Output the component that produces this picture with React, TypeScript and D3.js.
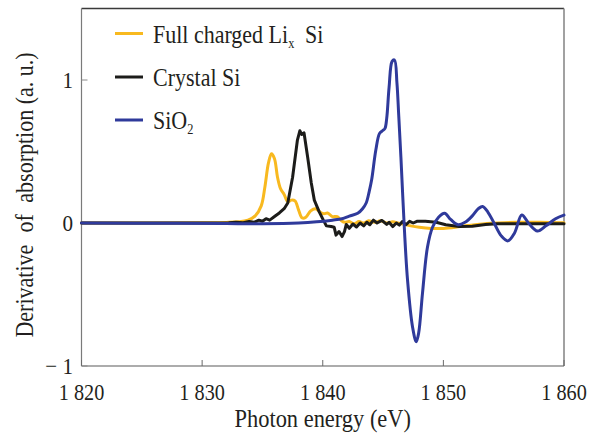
import React from 'react';
import * as d3 from 'd3';

// spectra: [photon energy eV, derivative]
const lixsi: [number, number][] = [
  [1820, 0], [1826, 0], [1830, 0.002], [1832, 0.004], [1833, 0.008], [1833.8, 0.02],
  [1834.4, 0.05], [1834.9, 0.12], [1835.2, 0.25], [1835.5, 0.42], [1835.75, 0.485],
  [1836.0, 0.45], [1836.25, 0.32], [1836.5, 0.24], [1836.8, 0.2], [1837.1, 0.15],
  [1837.4, 0.16], [1837.7, 0.155], [1838.0, 0.09], [1838.3, 0.035], [1838.6, 0.04],
  [1839.0, 0.085], [1839.4, 0.1], [1839.8, 0.075], [1840.1, 0.065], [1840.4, 0.07],
  [1840.8, 0.045], [1841.2, 0.045], [1841.5, 0.02], [1841.8, 0.005], [1842.2, 0.01],
  [1842.6, -0.005], [1843.0, 0.01], [1843.4, 0.0], [1843.8, 0.015], [1844.3, 0.005],
  [1844.8, 0.015], [1845.3, 0.0], [1845.8, 0.008], [1846.3, -0.002], [1846.8, -0.01],
  [1847.3, -0.02], [1848, -0.03], [1849, -0.038], [1850, -0.038], [1851, -0.03],
  [1852, -0.018], [1853, -0.008], [1854.5, 0.0], [1856, 0.005], [1858, 0.005], [1860, 0.002],
];

const crystal: [number, number][] = [
  [1820, 0], [1830, 0], [1832.2, 0.002], [1832.8, 0.005], [1833.4, 0.002], [1833.9, 0.01],
  [1834.3, 0.005], [1834.7, 0.02], [1835.0, 0.012], [1835.3, 0.03], [1835.6, 0.02],
  [1836.0, 0.045], [1836.4, 0.07], [1836.8, 0.1], [1837.1, 0.14], [1837.5, 0.32],
  [1837.9, 0.58], [1838.1, 0.645], [1838.25, 0.62], [1838.45, 0.63], [1838.75, 0.46],
  [1839.05, 0.28], [1839.3, 0.16], [1839.7, 0.08], [1840.05, 0.02], [1840.3, -0.02],
  [1840.7, -0.025], [1840.95, -0.03], [1841.1, -0.085], [1841.35, -0.06], [1841.6, -0.095],
  [1841.8, -0.06], [1841.95, -0.01], [1842.2, -0.037], [1842.5, -0.007], [1842.8, -0.028],
  [1843.1, 0.0], [1843.4, -0.02], [1843.65, 0.005], [1843.9, -0.012], [1844.2, 0.02],
  [1844.5, 0.0], [1844.9, 0.018], [1845.3, -0.01], [1845.5, 0.005], [1845.8, -0.025],
  [1846.1, 0.0], [1846.35, -0.015], [1846.6, 0.01], [1846.9, -0.012], [1847.2, 0.012],
  [1847.5, 0.0], [1847.8, 0.012], [1848.5, 0.012], [1849.4, 0.005], [1850.2, -0.012],
  [1851.3, -0.025], [1852.4, -0.022], [1853.5, -0.01], [1854.5, -0.005], [1856, -0.005],
  [1858, -0.005], [1860, -0.005],
];

const sio2: [number, number][] = [
  [1820, 0], [1828, -0.002], [1832, -0.004], [1835, -0.005], [1838, 0.0], [1839.5, 0.008],
  [1840.8, 0.02], [1841.6, 0.03], [1842.2, 0.048], [1842.9, 0.068], [1843.3, 0.1],
  [1843.6, 0.14], [1843.85, 0.22], [1844.05, 0.3], [1844.4, 0.51], [1844.7, 0.625],
  [1844.95, 0.645], [1845.15, 0.66], [1845.3, 0.73], [1845.5, 0.95], [1845.75, 1.13],
  [1845.95, 1.14], [1846.15, 0.98], [1846.3, 0.75], [1846.48, 0.46], [1846.76, -0.03],
  [1847.03, -0.4], [1847.44, -0.725], [1847.75, -0.83], [1847.95, -0.77], [1848.27, -0.49],
  [1848.68, -0.17], [1849.1, -0.03], [1849.6, 0.04], [1850.1, 0.068], [1850.6, 0.025],
  [1851.2, -0.012], [1851.8, 0.005], [1852.4, 0.05], [1852.9, 0.1], [1853.25, 0.116],
  [1853.7, 0.075], [1854.2, 0.0], [1854.8, -0.09], [1855.35, -0.125], [1855.9, -0.07],
  [1856.5, 0.056], [1857.1, -0.005], [1857.8, -0.056], [1858.5, -0.02], [1859.3, 0.03],
  [1860, 0.055],
];

const xTicks = [1820, 1830, 1840, 1850, 1860];
const xTickLabels = ['1 820', '1 830', '1 840', '1 850', '1 860'];
const yTicks = [-1, 0, 1];
const yTickLabels = ['\u2212 1', '0', '1'];

const colors = { lixsi: '#f8b91f', crystal: '#1c1c1a', sio2: '#2f3a9b' };

const W = 597;
const H = 439;
const SQ = 0.88; // the figure's serif type is horizontally condensed
const FONT = '"Liberation Serif", "Times New Roman", serif';
const INK = '#231f20';

const x = d3.scaleLinear().domain([1820, 1860]).range([81.5, 564]);
const y = d3.scaleLinear().domain([-1, 1.5]).range([366, 8.5]);

const smooth = d3.line<[number, number]>()
  .x(d => x(d[0]))
  .y(d => y(d[1]))
  .curve(d3.curveCatmullRom.alpha(0.5));

const jagged = d3.line<[number, number]>()
  .x(d => x(d[0]))
  .y(d => y(d[1]))
  .curve(d3.curveLinear);

const Txt = ({ tx, ty, size, anchor = 'start', rot = 0, children }: any) => (
  <text
    transform={`translate(${tx},${ty}) rotate(${rot}) scale(${SQ},1)`}
    fontSize={size}
    fontFamily={FONT}
    fill={INK}
    textAnchor={anchor}
  >
    {children}
  </text>
);

export default function App() {
  const x0 = x.range()[0];
  const x1 = x.range()[1];
  const y0 = y.range()[0];
  const y1 = y.range()[1];

  return (
    <svg width={W} height={H} style={{ position: 'absolute', left: 0, top: 0, background: '#fff' }}>
      {/* frame */}
      <line x1={x0} x2={x1} y1={y1} y2={y1} stroke="#3a3a3a" strokeWidth={1.3} />
      <line x1={x1} x2={x1} y1={y1} y2={y0} stroke="#8a8a8a" strokeWidth={1.6} />
      <line x1={x0} x2={x0} y1={y1} y2={y0} stroke="#7a7a7a" strokeWidth={1.2} />
      <line x1={x0} x2={x1} y1={y0} y2={y0} stroke="#5a5a5a" strokeWidth={1.2} />

      {/* ticks */}
      {xTicks.map(t => (
        <line key={'xt' + t} x1={x(t)} x2={x(t)} y1={y0} y2={y0 - 6} stroke="#6a6a6a" strokeWidth={1} />
      ))}
      {yTicks.map(t => (
        <line key={'yt' + t} x1={x0} x2={x0 + 6} y1={y(t)} y2={y(t)} stroke="#8a8a8a" strokeWidth={1} />
      ))}

      {/* tick labels */}
      {xTicks.map((t, i) => (
        <Txt key={'xl' + t} tx={x(t)} ty={400} size={23} anchor="middle">{xTickLabels[i]}</Txt>
      ))}
      {yTicks.map((t, i) => (
        <Txt key={'yl' + t} tx={73} ty={y(t) + 8} size={24} anchor="end">{yTickLabels[i]}</Txt>
      ))}

      {/* axis titles */}
      <Txt tx={(x0 + x1) / 2} ty={427} size={25.5} anchor="middle">Photon energy (eV)</Txt>
      <Txt tx={33} ty={195} size={25} anchor="middle" rot={-90}>
        Derivative<tspan dx={14}>of</tspan><tspan dx={13}>absorption (a. u.)</tspan>
      </Txt>

      {/* curves */}
      <g fill="none" strokeWidth={3} strokeLinejoin="round" strokeLinecap="round">
        <path d={smooth(lixsi) ?? ''} stroke={colors.lixsi} />
        <path d={jagged(crystal) ?? ''} stroke={colors.crystal} />
        <path d={smooth(sio2) ?? ''} stroke={colors.sio2} />
      </g>

      {/* legend */}
      <g strokeWidth={3}>
        <line x1={115} x2={143} y1={33.5} y2={33.5} stroke={colors.lixsi} />
        <line x1={115} x2={143} y1={77} y2={77} stroke={colors.crystal} />
        <line x1={115} x2={143} y1={120} y2={120} stroke={colors.sio2} />
      </g>
      <Txt tx={153} ty={42.5} size={25}>
        Full charged Li<tspan fontSize={14} dy={5}>x</tspan><tspan dy={-5} dx={6}>{' Si'}</tspan>
      </Txt>
      <Txt tx={153} ty={86} size={25}>Crystal Si</Txt>
      <Txt tx={153} ty={128.5} size={25}>
        SiO<tspan fontSize={14} dy={5}>2</tspan>
      </Txt>
    </svg>
  );
}
